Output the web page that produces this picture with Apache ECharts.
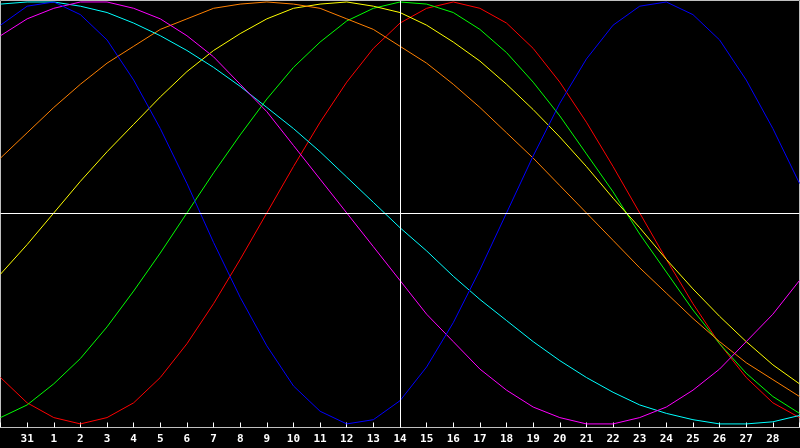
<!DOCTYPE html>
<html>
<head>
<meta charset="utf-8">
<script src="https://cdn.jsdelivr.net/npm/echarts@6/dist/echarts.min.js"></script>
<style>
html, body { margin: 0; padding: 0; background: #000; }
#chart { width: 800px; height: 448px; }
</style>
</head>
<body>
<div id="chart"></div>
<script>
// days shown on the x axis (30 and 29 sit on the frame edges)
var days = ['30', '31', '1', '2', '3', '4', '5', '6', '7', '8', '9', '10', '11', '12', '13', '14',
    '15', '16', '17', '18', '19', '20', '21', '22', '23', '24', '25', '26', '27', '28', '29'];
var today = '14';

// values in percent, one per day
var redVals = [-78, -90, -97, -100, -97, -90, -78, -62, -43, -22, 0, 22, 43, 62, 78, 90,
    97, 100, 97, 90, 78, 62, 43, 22, 0, -22, -43, -62, -78, -90, -97];
var greenVals = [-97, -91, -81, -69, -54, -37, -19, 0, 19, 37, 54, 69, 81, 91, 97, 100,
    99, 95, 87, 76, 62, 46, 28, 10, -10, -28, -46, -62, -76, -87, -95];
var blueVals = [89, 98, 100, 94, 82, 63, 40, 14, -14, -40, -63, -82, -94, -100, -98, -89,
    -73, -52, -27, 0, 27, 52, 73, 89, 98, 100, 94, 82, 63, 40, 14];
var yellowVals = [-29, -15, 0, 15, 29, 42, 55, 67, 77, 85, 92, 97, 99, 100, 98, 95,
    89, 81, 72, 61, 49, 36, 22, 7, -7, -22, -36, -49, -61, -72, -81];
var orangeVals = [26, 38, 50, 61, 71, 79, 87, 92, 97, 99, 100, 99, 97, 92, 87, 79,
    71, 61, 50, 38, 26, 13, 0, -13, -26, -38, -50, -61, -71, -79, -87];
var cyanVals = [99, 100, 100, 98, 95, 90, 84, 77, 69, 60, 50, 40, 29, 17, 5, -7,
    -18, -30, -41, -51, -61, -70, -78, -85, -91, -95, -98, -100, -100, -99, -96];
var magentaVals = [84, 92, 97, 100, 100, 97, 92, 84, 74, 61, 48, 32, 16, 0, -16, -32,
    -48, -61, -74, -84, -92, -97, -100, -100, -97, -92, -84, -74, -61, -48, -32];

var lines = [
    {data: redVals, color: '#ff0000'},
    {data: greenVals, color: '#00ff00'},
    {data: yellowVals, color: '#ffff00'},
    {data: orangeVals, color: '#ff8000'},
    {data: cyanVals, color: '#00ffff'},
    {data: magentaVals, color: '#ff00ff'},
    {data: blueVals, color: '#0000ff'}
];

var series = lines.map(function (l) {
    return {
        type: 'line',
        data: l.data,
        symbol: 'none',
        silent: true,
        lineStyle: {color: l.color, width: 1}
    };
});

// centre line and today marker
series.push({
    type: 'line',
    data: [],
    z: 5,
    markLine: {
        silent: true,
        symbol: 'none',
        label: {show: false},
        lineStyle: {color: '#ffffff', width: 1, type: 'solid'},
        data: [{yAxis: 0}, {xAxis: today}]
    }
});

var chart = echarts.init(document.getElementById('chart'));
chart.setOption({
    animation: false,
    backgroundColor: '#000000',
    grid: {
        left: 0.5, right: 0.5, top: 0.5, bottom: 20.5,
        containLabel: false,
        outerBoundsMode: 'none',
        show: true,
        borderColor: '#c0c0c0',
        borderWidth: 1,
        backgroundColor: '#000000'
    },
    xAxis: {
        type: 'category',
        data: days,
        boundaryGap: false,
        axisLine: {show: false, onZero: false},
        axisTick: {show: true, inside: true, length: 5, interval: 0, lineStyle: {color: '#ffffff'}},
        axisLabel: {
            interval: 0,
            color: '#ffffff',
            fontFamily: 'DejaVu Sans Mono',
            fontWeight: 'bold',
            fontSize: 11,
            margin: 6,
            formatter: function (v, i) {
                // first and last day fall on the frame, no label there
                return (i === 0 || i === days.length - 1) ? '' : v;
            }
        },
        splitLine: {show: false}
    },
    yAxis: {
        type: 'value',
        min: -101.7,
        max: 100.7,
        show: false,
        splitLine: {show: false}
    },
    series: series
});
</script>
</body>
</html>
